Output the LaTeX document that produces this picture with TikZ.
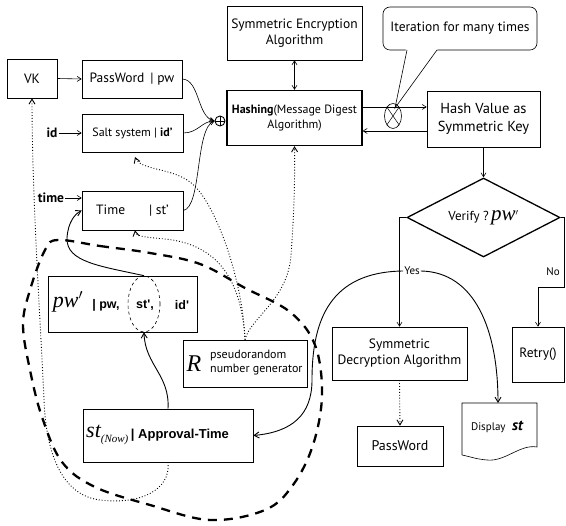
\documentclass[tikz,border=0pt]{standalone}
\usepackage{fontspec}
\setmainfont{PT Sans}
\newfontfamily\serifit{Liberation Serif}
\newfontfamily\arialb{Liberation Sans}
\usetikzlibrary{arrows.meta,shapes.geometric}
\begin{document}
\begin{tikzpicture}[x=1pt,y=-1pt,
  box/.style={draw, line width=0.6pt, inner sep=1pt, align=center, font=\fontsize{12}{14}\selectfont},
  arr/.style={-{Straight Barb[length=4pt,width=5pt]}, line width=0.6pt},
  solarr/.style={-{Straight Barb[length=5pt,width=6pt]}, line width=0.9pt},
  dotarr/.style={-{Straight Barb[length=5pt,width=6pt]}, dotted, line width=0.9pt},
  bigdash/.style={line width=2.3pt, dash pattern=on 9pt off 7pt},
  btxt/.style={inner sep=0pt, font=\arialb\bfseries\fontsize{12.5}{14}\selectfont},
  sit/.style={inner sep=0pt, font=\serifit\itshape\fontsize{22}{22}\selectfont},
]
\useasboundingbox (0,0) rectangle (566,526);
\fill[white] (0,0) rectangle (566,526);

% top boxes
\node[box, minimum width=135pt, minimum height=54pt, font=\fontsize{13.5}{16}\selectfont] (enc) at (294.5,33) {Symmetric Encryption\\Algorithm};
\node[box, line width=1.3pt, minimum width=135pt, minimum height=55pt, font=\fontsize{12}{15}\selectfont] (hash) at (294.5,118) {\textbf{Hashing}(Message Digest\\Algorithm)};
\node[box, minimum width=113pt, minimum height=56pt, font=\fontsize{14.5}{18}\selectfont] (hv) at (483.5,119) {Hash Value as\\Symmetric Key};
\node[box, rounded corners=7pt, minimum width=154pt, minimum height=43pt, font=\fontsize{13.5}{15}\selectfont] (iter) at (460,28.5) {Iteration for many times};
\fill[white] (406,48.5) -- (438,48.5) -- (395,108) -- cycle;
\draw[line width=0.6pt] (407,50) -- (395,108) -- (437,50);

% circle with cross
\node[draw, ellipse, line width=0.6pt, minimum width=17pt, minimum height=25pt, inner sep=0pt] (ox) at (393,116) {};
\draw[line width=0.5pt] (ox.north west) -- (ox.south east) (ox.north east) -- (ox.south west);

\draw[{Straight Barb[length=4pt,width=5pt]}-{Straight Barb[length=4pt,width=5pt]}, line width=0.6pt] (enc.south) -- (hash.north);
\draw[arr] (hash.east |- 0,107) -- (hv.west |- 0,107);
\draw[arr] (hv.west |- 0,131) -- (hash.east |- 0,131);

% diamond
\node[diamond, draw, line width=1.3pt, aspect=1.94, minimum width=153pt, minimum height=79pt, inner sep=0pt, font=\fontsize{13}{15}\selectfont] (ver) at (483.5,217.5) {Verify ?\,{\serifit\itshape\fontsize{21}{21}\selectfont pw}$^{\prime}$};
\draw[arr] (hv.south) -- (ver.north);

% right lower boxes
\node[box, minimum width=135pt, minimum height=53pt, font=\fontsize{13.5}{16}\selectfont] (dec) at (399.5,353.5) {Symmetric\\Decryption Algorithm};
\node[box, minimum width=86pt, minimum height=40pt, font=\fontsize{14}{16}\selectfont] (pw2) at (400,446) {PassWord};
\node[box, minimum width=52pt, minimum height=55pt, font=\fontsize{13.5}{16}\selectfont] (retry) at (538,354.5) {Retry()};
\draw[line width=0.6pt] (462,403) -- (537,403) -- (537,447) .. controls (520,444) and (505,462) .. (487,460) .. controls (475,459) and (468,456) .. (462,455) -- cycle;
\coordinate (dtop) at (498,403);
\node[inner sep=0pt, font=\fontsize{11}{12}\selectfont] (disp) at (497,427) {Display\,\, {\fontsize{15}{15}\selectfont\bfseries\itshape st}};

\node[inner sep=1pt, font=\fontsize{11}{12}\selectfont] (yes) at (412,271) {Yes};
\node[inner sep=1pt, font=\fontsize{11}{12}\selectfont] (no) at (553,272) {No};
\coordinate (nc) at (564,287);
\draw[arr] (ver.west) -| (dec.north);
\draw[arr] (ver.east) -| (nc) -| (retry.north);
\draw[dotarr, dotted] (dec.south) -- (pw2.north);

% left top boxes
\node[box, minimum width=50pt, minimum height=39pt, font=\fontsize{13.5}{15}\selectfont] (vk) at (32,78.5) {VK};
\node[box, minimum width=100pt, minimum height=38pt, font=\fontsize{13.5}{15}\selectfont] (pw) at (132,79) {PassWord\hspace{6pt}| pw};
\node[box, minimum width=101pt, minimum height=38pt, font=\fontsize{12}{14}\selectfont] (salt) at (132.5,133) {Salt system | \textbf{id'}};
\node[box, minimum width=101pt, minimum height=39pt, font=\fontsize{13.5}{15}\selectfont] (time) at (132.5,210.5) {Time\hspace{24pt}| st'};
\node[inner sep=1pt, font=\bfseries\fontsize{13.5}{15}\selectfont] (idl) at (52,133) {id};
\node[inner sep=1pt, font=\bfseries\fontsize{13.5}{15}\selectfont] (timel) at (51,198) {time};
\draw[arr] (vk.east) -- (pw.west);
\draw[arr] (idl.east) -- (idl.east -| salt.west);
\draw[arr] (timel.east) -- (timel.east -| time.west);

\node[draw, circle, minimum size=10pt, inner sep=0pt, line width=0.9pt] (plus) at (220,121) {};
\draw[line width=0.9pt] (plus.north) -- (plus.south) (plus.west) -- (plus.east);
\draw[arr] (pw.east) .. controls (200,80) and (197,117) .. (plus.west);
\draw[arr] (salt.east) .. controls (198,133) and (202,121) .. (plus.west);
\draw[arr] (time.east) .. controls (202,207) and (195,128) .. (plus.west);

% pw' box
\node[draw, line width=0.6pt, minimum width=149pt, minimum height=56pt] (pwb) at (122.5,304) {};
\node[sit] (pwp) at (68,302) {pw$^{\prime}$};
\node[btxt] (pwt) at (106,305) {| pw,};
\node[btxt] (stp) at (145,305) {st',};
\node[btxt] (idp) at (182,305) {id'};
\node[draw, ellipse, dashed, line width=0.6pt, minimum width=32pt, minimum height=56pt, inner sep=0pt] (ell) at (144,304) {};

% approval box
\node[draw, line width=0.6pt, minimum width=170pt, minimum height=53pt] (appr) at (168,435.5) {};
\node[inner sep=0pt, anchor=west] (stnow) at (86,435) {{\serifit\itshape\fontsize{22}{22}\selectfont st}\raisebox{-5pt}{\serifit\itshape\fontsize{11}{11}\selectfont (Now)}};
\node[btxt, anchor=west, font=\arialb\bfseries\fontsize{13}{15}\selectfont] (apt) at (stnow.east) {\,| Approval-Time};

% R box
\node[draw, line width=0.6pt, minimum width=124pt, minimum height=47pt] (rbox) at (245,363.5) {};
\node[sit, font=\serifit\itshape\fontsize{24}{24}\selectfont] (rl) at (194,364) {R};
\node[inner sep=0pt, align=left, anchor=west, font=\fontsize{12}{14}\selectfont] (rt) at (210,363) {pseudorandom\\number generator};

% solid arrows
\draw[solarr] (appr.north) .. controls (170,375) and (145,365) .. (ell.south);
\draw[solarr] (ell.north) .. controls (100,266) and (66,262) .. (67,238) .. controls (68,222) and (75,214) .. (time.west);
\draw[solarr] (yes.west) .. controls (330,272) and (312,320) .. (312,380) .. controls (312,415) and (292,432) .. (appr.east);
\draw[solarr] (yes.east) .. controls (475,272) and (498,330) .. (dtop);

% dotted arrows from R
\draw[dotarr] (rbox.north) .. controls (242,290) and (225,245) .. (165,239) .. controls (142,237) and (136,236) .. (135,0 |- time.south);
\coordinate (saltend) at (135,157);
\draw[dotarr] (rbox.north) .. controls (243,280) and (215,200) .. (190,182) .. controls (172,168) and (140,170) .. (saltend);
\draw[dotarr] (rbox.north) .. controls (250,318) and (288,300) .. (291,255) .. controls (294,215) and (295,180) .. (hash.south);
\draw[dotarr] (appr.south) .. controls (171,490) and (140,505) .. (100,500) .. controls (60,495) and (46,450) .. (44,400) .. controls (41,330) and (32,200) .. (vk.south);

% big dashed loop
\draw[bigdash] plot[smooth cycle, tension=0.6] coordinates {(58,240) (100,246) (150,253) (200,264) (245,288) (290,312) (315,345) (322,395) (313,445) (293,485) (265,510) (210,520) (150,505) (95,487) (62,462) (42,417) (30,370) (23,325) (30,290) (45,250)};
\end{tikzpicture}
\end{document}
